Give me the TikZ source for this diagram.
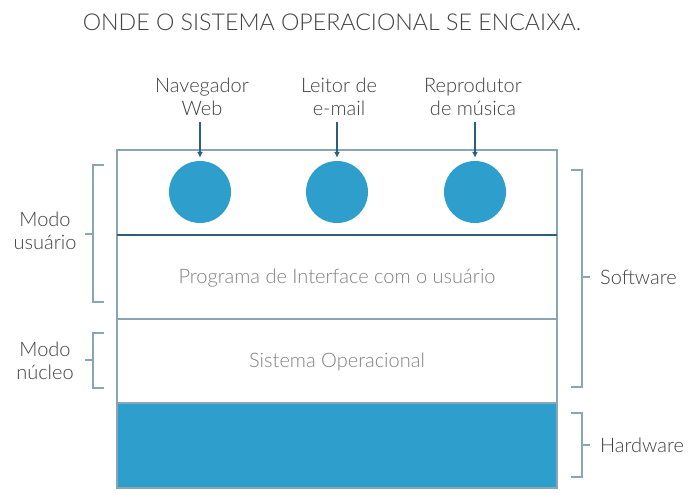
\documentclass[tikz,border=0pt]{standalone}
\usepackage{fontspec}
\usetikzlibrary{arrows.meta}
\setmainfont{Lato Light}
\definecolor{blu}{HTML}{2E9FCC}
\definecolor{edge}{HTML}{8AA5B5}
\definecolor{dark}{HTML}{2B5F7A}
\definecolor{txt}{HTML}{404040}
\definecolor{ltxt}{HTML}{808080}
\begin{document}
\begin{tikzpicture}[x=1pt,y=-1pt,
  lbl/.style={text=txt,font=\fontsize{20}{23}\selectfont,align=center,inner sep=0pt},
  inl/.style={text=ltxt,font=\fontsize{20}{23}\selectfont,inner sep=0pt},
  app/.style={circle,fill=blu,minimum size=62pt,inner sep=0pt},
  brk/.style={edge,line width=1.2pt},
  arr/.style={dark,line width=1.2pt,-{Latex[length=6pt,width=6pt]}}]
\useasboundingbox (0,0) rectangle (696,495);
\node[lbl,font=\fontsize{23.2}{28}\selectfont] (title) at (332,22) {ONDE O SISTEMA OPERACIONAL SE ENCAIXA.};
% layers
\fill[blu] (117,403) rectangle (557,488);
\draw[edge,line width=1.2pt] (117,150) rectangle (557,488);
\draw[dark,line width=1.2pt] (117,235) -- (557,235);
\draw[edge,line width=1.2pt] (117,319) -- (557,319);
\draw[edge,line width=1.2pt] (117,403) -- (557,403);
\node[inl] (ui) at (337,278) {Programa de Interface com o usuário};
\node[inl] (so) at (337,362) {Sistema Operacional};
% apps
\node[app] (c1) at (200,192) {};
\node[app] (c2) at (337,192) {};
\node[app] (c3) at (475,192) {};
\node[lbl] (l1) at (202,97) {Navegador\\Web};
\node[lbl] (l2) at (339,97) {Leitor de\\e-mail};
\node[lbl] (l3) at (473,97) {Reprodutor\\de música};
\coordinate (a1) at (200,122);
\coordinate (a2) at (337,122);
\coordinate (a3) at (475,122);
\draw[arr,shorten >=3pt] (a1) -- (c1.north);
\draw[arr,shorten >=3pt] (a2) -- (c2.north);
\draw[arr,shorten >=3pt] (a3) -- (c3.north);
% left brackets
\draw[brk] (104,165) -- (93,165) -- (93,302) -- (104,302);
\draw[brk] (85,234) -- (93,234);
\node[lbl] (mu) at (45,231) {Modo\\usuário};
\draw[brk] (104,333) -- (93,333) -- (93,388) -- (104,388);
\draw[brk] (85,360) -- (93,360);
\node[lbl] (mn) at (45,361) {Modo\\núcleo};
% right brackets
\draw[brk] (571,170) -- (582,170) -- (582,387) -- (571,387);
\draw[brk] (582,277) -- (590,277);
\node[lbl,anchor=west] (sw) at (600,277) {Software};
\draw[brk] (571,413) -- (582,413) -- (582,477) -- (571,477);
\draw[brk] (582,445) -- (590,445);
\node[lbl,anchor=west] (hw) at (600,445) {Hardware};
\end{tikzpicture}
\end{document}
